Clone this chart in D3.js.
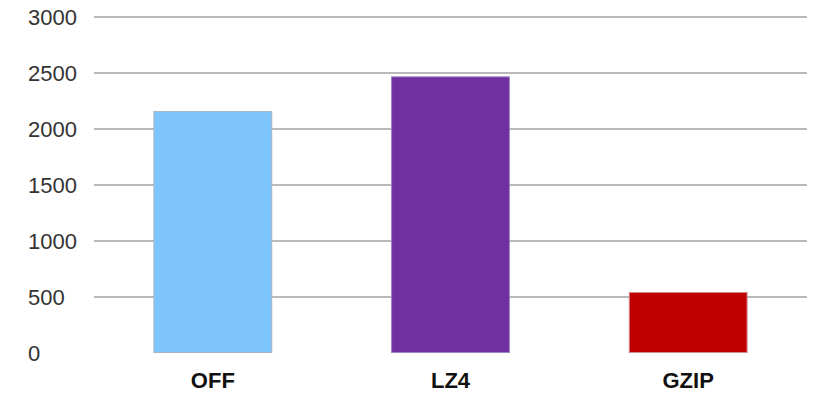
<!DOCTYPE html>
<html>
<head>
<meta charset="utf-8">
<script src="https://cdn.jsdelivr.net/npm/d3@7"></script>
<style>
  html, body { margin: 0; padding: 0; background: #fff; }
  svg { display: block; }
</style>
</head>
<body>
<svg id="chart" width="816" height="393"></svg>
<script>
// Compression modes and their measured values
const categories = ["OFF", "LZ4", "GZIP"];
const values = [2160, 2470, 545];
const barColors = ["#7fc6ff", "#7030a0", "#c00000"];
const barStrokes = ["#a7b4c0", "#9c82c6", "#d38a8a"];
const yTicks = [0, 500, 1000, 1500, 2000, 2500, 3000];

const svg = d3.select("#chart");
const width = 816, height = 393;
const plot = { left: 94, right: 807, top: 17, bottom: 353 };

const x = d3.scaleBand()
  .domain(categories)
  .range([plot.left, plot.right])
  .paddingInner(0.5)
  .paddingOuter(0.25);

const y = d3.scaleLinear()
  .domain([0, 3000])
  .range([plot.bottom, plot.top]);

// Horizontal gridlines (none at zero)
svg.append("g")
  .selectAll("line")
  .data(yTicks.filter(t => t > 0))
  .join("line")
  .attr("x1", plot.left)
  .attr("x2", plot.right)
  .attr("y1", d => y(d))
  .attr("y2", d => y(d))
  .attr("stroke", "#b9b9b9")
  .attr("stroke-width", 2);

// Y tick labels, left aligned
svg.append("g")
  .selectAll("text")
  .data(yTicks)
  .join("text")
  .attr("x", 28)
  .attr("y", d => y(d))
  .attr("dy", "0.36em")
  .attr("font-family", "'Liberation Sans', Arial, sans-serif")
  .attr("font-size", 22)
  .attr("fill", "#333")
  .text(d => d);

// Bars
svg.append("g")
  .selectAll("rect")
  .data(categories)
  .join("rect")
  .attr("x", d => x(d) + 0.5)
  .attr("y", (d, i) => y(values[i]) + 0.5)
  .attr("width", x.bandwidth() - 1)
  .attr("height", (d, i) => y(0) - y(values[i]) - 1)
  .attr("fill", (d, i) => barColors[i])
  .attr("stroke", (d, i) => barStrokes[i])
  .attr("stroke-width", 1);

// Category labels
svg.append("g")
  .selectAll("text")
  .data(categories)
  .join("text")
  .attr("x", d => x(d) + x.bandwidth() / 2)
  .attr("y", 388)
  .attr("text-anchor", "middle")
  .attr("font-family", "'Liberation Sans', Arial, sans-serif")
  .attr("font-weight", "bold")
  .attr("font-size", 22)
  .attr("fill", "#111")
  .text(d => d);
</script>
</body>
</html>
